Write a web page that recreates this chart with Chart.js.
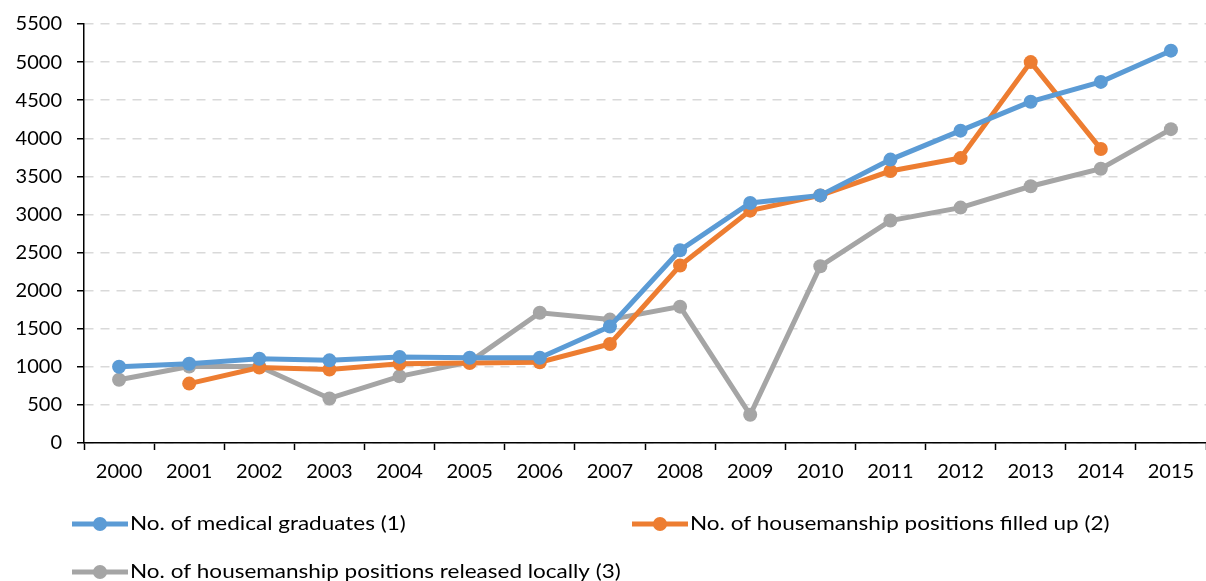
<!DOCTYPE html>
<html>
<head>
<meta charset="utf-8">
<script src="https://cdn.jsdelivr.net/npm/chart.js@4/dist/chart.umd.min.js"></script>
<style>
  html, body { margin: 0; padding: 0; background: #fff; overflow: hidden; }
  #wrap { width: 1213px; height: 581px; }
</style>
</head>
<body>
<div id="wrap"><canvas id="chartOne" width="1213" height="581"></canvas></div>
<script>
// data
const years = ["2000","2001","2002","2003","2004","2005","2006","2007","2008","2009","2010","2011","2012","2013","2014","2015"];
const graduates = [1000, 1040, 1105, 1085, 1130, 1120, 1120, 1530, 2530, 3150, 3250, 3720, 4100, 4480, 4740, 5150];
const filledUp = [null, 780, 990, 965, 1040, 1050, 1060, 1300, 2330, 3050, 3250, 3570, 3740, 5000, 3860, null];
const releasedLocally = [830, 1005, 1005, 585, 875, 1065, 1710, 1620, 1790, 370, 2320, 2920, 3090, 3370, 3600, 4120];
const seriesNames = ["No. of medical graduates (1)", "No. of housemanship positions filled up (2)", "No. of housemanship positions released locally (3)"];
const seriesColors = ["#5B9BD5", "#ED7D31", "#A5A5A5"];

const FONT = "Lato, 'Open Sans', sans-serif";

function makeSet(i, values) {
    return {
        label: seriesNames[i],
        data: values,
        borderColor: seriesColors[i],
        backgroundColor: seriesColors[i],
        borderWidth: 5,
        pointRadius: 7,
        pointHoverRadius: 7,
        pointBorderWidth: 0,
        tension: 0,
        spanGaps: false
    };
}

// legend drawn below the axis, Excel style (line with marker)
const legendPlugin = {
    id: "excelLegend",
    afterDraw(chart) {
        const ctx = chart.ctx;
        const spots = [[72, 524], [632, 524], [72, 572]];
        ctx.save();
        ctx.textBaseline = "middle";
        chart.data.datasets.forEach(function (ds, i) {
            const x = spots[i][0], y = spots[i][1];
            ctx.strokeStyle = ds.borderColor;
            ctx.lineWidth = 5;
            ctx.beginPath();
            ctx.moveTo(x, y);
            ctx.lineTo(x + 56, y);
            ctx.stroke();
            ctx.fillStyle = ds.borderColor;
            ctx.beginPath();
            ctx.arc(x + 28, y, 7, 0, Math.PI * 2);
            ctx.fill();
            // text is a bit wider than Lato in the original
            ctx.save();
            ctx.translate(x + 58, y);
            ctx.scale(1.125, 1);
            ctx.font = "20px " + FONT;
            ctx.fillStyle = "#000";
            ctx.fillText(ds.label, 0, 0);
            ctx.restore();
        });
        ctx.restore();
    }
};

const ctx = document.getElementById("chartOne").getContext("2d");
const newChart = new Chart(ctx, {
    type: "line",
    data: {
        labels: years,
        datasets: [makeSet(0, graduates), makeSet(1, filledUp), makeSet(2, releasedLocally)]
    },
    options: {
        responsive: false,
        animation: false,
        layout: { padding: { top: 0, right: 0, bottom: 90, left: 0 } },
        plugins: {
            legend: { display: false },
            tooltip: { enabled: false }
        },
        scales: {
            x: {
                offset: true,
                grid: {
                    display: true,
                    offset: true,
                    drawOnChartArea: false,
                    tickLength: 7,
                    tickColor: "#000",
                    tickWidth: 1.5
                },
                border: { color: "#000", width: 1.5 },
                ticks: {
                    color: "#000",
                    font: { family: FONT, size: 20 },
                    padding: 10,
                    maxRotation: 0,
                    autoSkip: false
                },
                afterFit(scale) { scale.height = 581 - 443 - 90; }
            },
            y: {
                min: 0,
                max: 5500,
                ticks: {
                    stepSize: 500,
                    color: "#000",
                    font: { family: FONT, size: 20, lineHeight: 0.9 },
                    padding: 15,
                    callback: function (v) { return String(v); }
                },
                grid: {
                    color: "#D9D9D9",
                    lineWidth: 1.5,
                    tickLength: 7,
                    tickColor: "#000"
                },
                border: { color: "#000", width: 1.5, dash: [9, 7] },
                afterFit(scale) { scale.width = 84; }
            }
        }
    },
    plugins: [legendPlugin]
});
</script>
</body>
</html>
